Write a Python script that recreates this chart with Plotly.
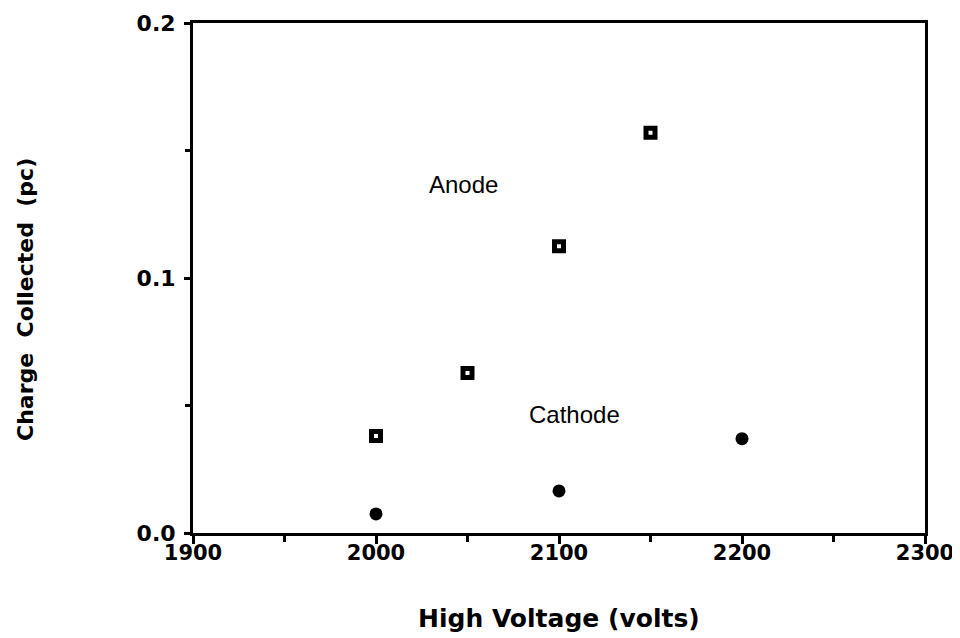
import plotly.graph_objects as go

# Data
anode_v = [2000, 2050, 2100, 2150]
anode_q = [0.038, 0.0627, 0.1125, 0.157]
cathode_v = [2000, 2100, 2200]
cathode_q = [0.0075, 0.0165, 0.037]

x_title = "High Voltage (volts)"
y_title = "Charge  Collected  (pc)"
labels = [("Anode", 2048, 0.1365), ("Cathode", 2108.5, 0.0463)]

fig = go.Figure()
fig.add_trace(go.Scatter(
    x=anode_v, y=anode_q, mode="markers", name="Anode",
    marker=dict(symbol="square-open", size=9, color="black",
                line=dict(color="black", width=5)),
))
fig.add_trace(go.Scatter(
    x=cathode_v, y=cathode_q, mode="markers", name="Cathode",
    marker=dict(symbol="circle", size=13, color="black"),
))

for txt, xv, yv in labels:
    fig.add_annotation(x=xv, y=yv, text=txt, showarrow=False,
                       font=dict(family="Liberation Sans", size=24, color="black"),
                       xanchor="center", yanchor="middle")

fig.add_annotation(xref="paper", yref="paper", x=0.5, y=0, yshift=-85,
                   text=x_title, showarrow=False, xanchor="center", yanchor="middle",
                   font=dict(family="DejaVu Sans", size=25, color="black", weight="bold"))
fig.add_annotation(xref="paper", yref="paper", x=0, y=0.5, xshift=-168, yshift=-22,
                   text=y_title, showarrow=False, textangle=-90,
                   xanchor="center", yanchor="middle",
                   font=dict(family="DejaVu Sans", size=22, color="black", weight="bold"))

axis_common = dict(
    showline=True, linecolor="black", linewidth=3, mirror=True,
    showgrid=False, zeroline=False, ticks="outside", tickcolor="black",
    tickwidth=3, automargin=False,
)

fig.update_xaxes(range=[1900, 2300], dtick=100, tick0=1900, ticklen=8,
                 ticklabelstandoff=-9,
                 tickfont=dict(family="DejaVu Sans", size=21, color="black", weight="bold"),
                 minor=dict(dtick=50, ticks="outside", ticklen=6, tickwidth=3, tickcolor="black"),
                 **axis_common)
fig.update_yaxes(range=[0, 0.2], dtick=0.1, tick0=0, ticklen=6, tickformat=".1f",
                 ticklabelstandoff=4,
                 tickfont=dict(family="DejaVu Sans", size=22, color="black", weight="bold"),
                 minor=dict(dtick=0.05, ticks="outside", ticklen=5, tickwidth=3, tickcolor="black"),
                 **axis_common)

# page adds an 8px body margin, so the figure is drawn 8px smaller
fig.update_layout(
    width=952, height=630,
    margin=dict(l=185, r=35, t=15, b=105),
    paper_bgcolor="white", plot_bgcolor="white",
    showlegend=False,
)

fig.write_html("out.html")
